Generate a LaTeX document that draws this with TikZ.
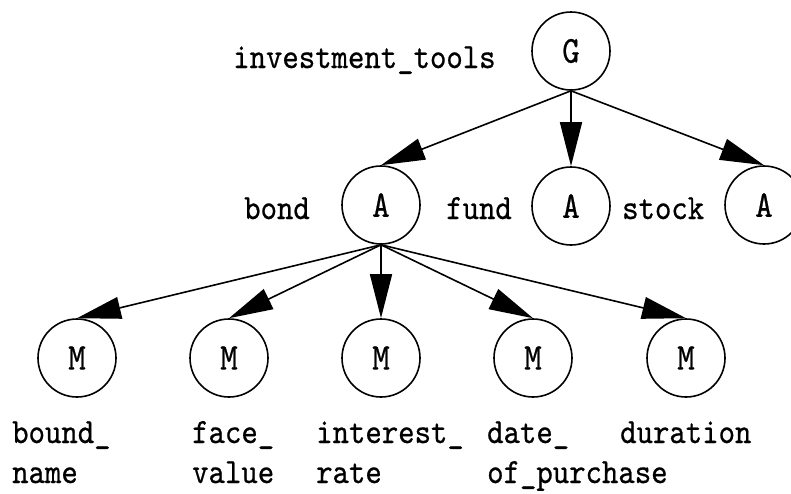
\documentclass[tikz,border=0pt]{standalone}
\usepackage{fontspec}
\usetikzlibrary{arrows.meta}
\newfontfamily\dfont{lmmono10-regular}[Extension=.otf,FakeStretch=0.88,FakeBold=0.6]
\begin{document}
\begin{tikzpicture}[x=1pt,y=-1pt,
  nd/.style={circle,draw,line width=1.6pt,minimum size=78pt,inner sep=0pt,
    font=\dfont\fontsize{38}{38}\selectfont},
  lbl/.style={anchor=base west,inner sep=0pt,
    font=\dfont\fontsize{35.5}{35.5}\selectfont},
  edge/.style={line width=1.6pt,-{Triangle[length=44pt,width=22pt]}}]
\useasboundingbox (0,0) rectangle (791,493);
\fill[white] (0,0) rectangle (791,493);
% nodes
\node[nd] (g) at (571,51) {G};
\node[nd] (bond) at (381,205) {A};
\node[nd] (fund) at (571,206) {A};
\node[nd] (stock) at (764,205) {A};
\node[nd] (m1) at (77,358) {M};
\node[nd] (m2) at (229,358) {M};
\node[nd] (m3) at (381,358) {M};
\node[nd] (m4) at (533,358) {M};
\node[nd] (m5) at (686,358) {M};
% labels
\node[lbl] (tg) at (233,68) {investment\_tools};
\node[lbl] (tb) at (244,219) {bond};
\node[lbl] (tf) at (446,219) {fund};
\node[lbl] (ts) at (622,219) {stock};
\node[lbl] (l1a) at (12,443) {bound\_};
\node[lbl] (l1b) at (12,483) {name};
\node[lbl] (l2a) at (192,443) {face\_};
\node[lbl] (l2b) at (192,483) {value};
\node[lbl] (l3a) at (316,443) {interest\_};
\node[lbl] (l3b) at (316,483) {rate};
\node[lbl] (l4a) at (487,443) {date\_};
\node[lbl] (l4b) at (487,483) {of\_purchase};
\node[lbl] (l5a) at (620,443) {duration};
% edges
\draw[edge] (g.south) -- (bond.north);
\draw[edge] (g.south) -- (fund.north);
\draw[edge] (g.south) -- (stock.north);
\draw[edge] (bond.south) -- (m1.north);
\draw[edge] (bond.south) -- (m2.north);
\draw[edge] (bond.south) -- (m3.north);
\draw[edge] (bond.south) -- (m4.north);
\draw[edge] (bond.south) -- (m5.north);
\end{tikzpicture}
\end{document}
